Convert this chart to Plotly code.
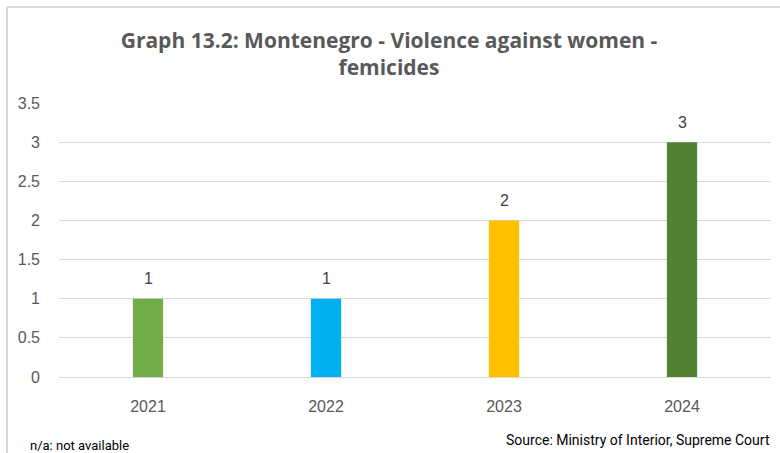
import plotly.graph_objects as go

years = ["2021", "2022", "2023", "2024"]
femicides = [1, 1, 2, 3]
colors = ["#70AD47", "#00B0F0", "#FFC000", "#548235"]
y_ticks = [0, 0.5, 1, 1.5, 2, 2.5, 3, 3.5]
y_tick_labels = ["0", "0.5", "1", "1.5", "2", "2.5", "3", "3.5"]

L, R, T, B = 59, 9, 103, 76
W, H = 780, 453
pw, ph = W - L - R, H - T - B

def px(x):
    return (x - L) / pw

def py(y):
    return (H - B - y) / ph

fig = go.Figure()
fig.add_trace(go.Bar(
    x=years, y=femicides, marker=dict(color=colors, line=dict(width=0)),
    width=0.17, hoverinfo="skip",
))

for i, v in enumerate(femicides):
    fig.add_annotation(x=i, y=v, text=str(v), showarrow=False, yshift=20,
                       font=dict(family="Liberation Sans, Arial", size=16, color="#404040"))

fig.add_annotation(xref="paper", yref="paper", x=px(28), y=py(445), xanchor="left", yanchor="middle",
                   text="n/a: not available", showarrow=False,
                   font=dict(family="Roboto", size=13, color="#000000"))
fig.add_annotation(xref="paper", yref="paper", x=px(772), y=py(440), xanchor="right", yanchor="middle",
                   text="Source: Ministry of Interior, Supreme Court", showarrow=False,
                   font=dict(family="Roboto", size=14, color="#000000"))

# chart border (top and left)
fig.add_shape(type="line", xref="paper", yref="paper", x0=px(7), x1=px(790), y0=py(7), y1=py(7),
              line=dict(color="#D9D9D9", width=2))
fig.add_shape(type="line", xref="paper", yref="paper", x0=px(7), x1=px(7), y0=py(7), y1=py(460),
              line=dict(color="#D9D9D9", width=2))

fig.update_layout(
    width=W, height=H, margin=dict(l=L, r=R, t=T, b=B),
    paper_bgcolor="white", plot_bgcolor="white",
    title=dict(text="<b>Graph 13.2: Montenegro - Violence against women -<br>femicides</b>",
               x=389 / W, xanchor="center", y=1 - 48 / H, yanchor="middle",
               font=dict(family="Open Sans", size=21, color="#595959")),
    showlegend=False,
    xaxis=dict(type="category", range=[-0.5, 3.5], showline=False, ticks="",
               tickfont=dict(family="Liberation Sans, Arial", size=16, color="#595959"),
               ticklabelstandoff=18),
    yaxis=dict(range=[0, 3.5], tickvals=y_ticks, ticktext=y_tick_labels, showgrid=True,
               gridcolor="#D9D9D9", gridwidth=1, zeroline=True, zerolinecolor="#D9D9D9", zerolinewidth=1,
               ticks="", ticklabelstandoff=18,
               tickfont=dict(family="Liberation Sans, Arial", size=16, color="#595959")),
)

fig.write_html("out.html", config={"displayModeBar": False},
               post_script="document.body.style.margin='0';")
